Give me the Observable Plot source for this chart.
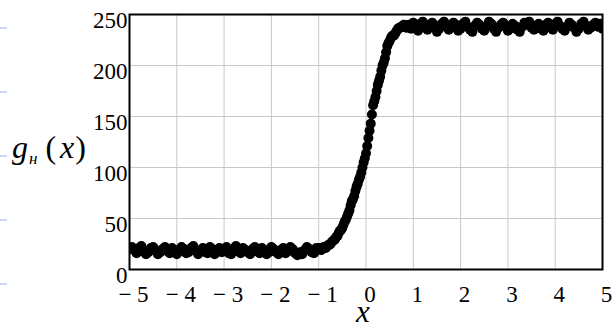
<!DOCTYPE html>
<html><head><meta charset="utf-8">
<script src="https://cdn.jsdelivr.net/npm/d3@7"></script>
<script src="https://cdn.jsdelivr.net/npm/@observablehq/plot@0.6"></script>
<style>
body{margin:0;background:#fff;}
#wrap{position:relative;width:612px;height:325px;overflow:hidden;}
.dash{position:absolute;left:0;width:7px;height:2px;background:#c9d5f3;}
#ylab{position:absolute;left:12px;top:131px;font-family:"Liberation Serif",serif;font-size:32px;line-height:32px;white-space:nowrap;color:#000;}
#ylab i{font-style:italic;}
#ylab .sub{font-size:17px;font-style:italic;position:relative;top:6px;margin-left:1px;margin-right:8px;}
#ylab .p1{margin-right:4px;}
#ylab .p2{margin-left:1px;}
#xlab{position:absolute;left:356px;top:307px;font-family:"Liberation Serif",serif;font-size:31px;font-style:italic;line-height:10px;height:14px;color:#000;}
</style></head>
<body><div id="wrap"></div>
<script>
const xTicks = [-5,-4,-3,-2,-1,0,1,2,3,4,5];
const yTicks = [0,50,100,150,200,250];

const lowX = [-5,-4.95,-4.9,-4.85,-4.8,-4.75,-4.7,-4.65,-4.6,-4.55,
-4.5,-4.45,-4.4,-4.35,-4.3,-4.25,-4.2,-4.15,-4.1,-4.05,
-4,-3.95,-3.9,-3.85,-3.8,-3.75,-3.7,-3.65,-3.6,-3.55,
-3.5,-3.45,-3.4,-3.35,-3.3,-3.25,-3.2,-3.15,-3.1,-3.05,
-3,-2.95,-2.9,-2.85,-2.8,-2.75,-2.7,-2.65,-2.6,-2.55,
-2.5,-2.45,-2.4,-2.35,-2.3,-2.25,-2.2,-2.15,-2.1,-2.05,
-2,-1.95,-1.9,-1.85,-1.8,-1.75,-1.7,-1.65,-1.6,-1.55,
-1.5,-1.45,-1.4,-1.35,-1.3,-1.25,-1.2,-1.15,-1.1,-1.05];
const lowY = [20,22,19,16,21,23,18,15,17,21, 22,19,15,17,20,22,18,16,21,19,
15,18,22,20,16,17,21,23,19,15, 18,21,17,16,22,20,15,18,21,17,
19,22,16,15,20,23,18,16,21,19, 17,15,20,22,18,16,21,19,15,17,
22,20,17,15,19,21,16,18,22,20, 16,14,17,15,19,22,20,17,16,21];

const riseX = [-1,-0.975,-0.95,-0.925,-0.9,-0.875,-0.85,-0.825,-0.8,-0.775,
-0.75,-0.725,-0.7,-0.675,-0.65,-0.625,-0.6,-0.575,-0.55,-0.525,
-0.5,-0.475,-0.45,-0.425,-0.4,-0.375,-0.35,-0.325,-0.3,-0.275,
-0.25,-0.225,-0.2,-0.175,-0.15,-0.125,-0.1,-0.075,-0.05,-0.025,
0,0.025,0.05,0.075,0.1,0.125,0.15,0.175,0.2,0.225,
0.25,0.275,0.3,0.325,0.35,0.375,0.4,0.425,0.45,0.475,
0.5,0.525,0.55,0.575,0.6,0.625,0.65,0.675,0.7,0.725,
0.75,0.775,0.8,0.825,0.85,0.875];
const riseY = [21,20,19,21,22,21,21,23,24,24,
25,27,28,29,30,32,33,36,38,39,
41,44,47,49,52,55,58,63,67,69,
72,77,81,84,88,91,95,100,105,109,
114,121,129,136,143,152,161,165,169,175,
181,185,189,195,200,203,207,213,219,222,
224,227,229,229,230,232,234,236,237,237,
238,239,240,238,237,239];

const highX = [0.9,0.95,1,1.05,1.1,1.15,1.2,1.25,1.3,1.35,
1.4,1.45,1.5,1.55,1.6,1.65,1.7,1.75,1.8,1.85,
1.9,1.95,2,2.05,2.1,2.15,2.2,2.25,2.3,2.35,
2.4,2.45,2.5,2.55,2.6,2.65,2.7,2.75,2.8,2.85,
2.9,2.95,3,3.05,3.1,3.15,3.2,3.25,3.3,3.35,
3.4,3.45,3.5,3.55,3.6,3.65,3.7,3.75,3.8,3.85,
3.9,3.95,4,4.05,4.1,4.15,4.2,4.25,4.3,4.35,
4.4,4.45,4.5,4.55,4.6,4.65,4.7,4.75,4.8,4.85,
4.9,4.95,5];
const highY = [240,236,242,238,234,241,243,237,235,240, 242,238,233,236,241,243,239,235,237,242,
240,234,236,241,243,238,235,233,239,242, 240,236,234,238,243,241,236,233,237,240,
242,238,234,236,241,239,235,233,238,242, 240,243,237,235,239,241,236,234,240,242,
238,235,241,243,239,236,234,238,242,240, 237,233,236,241,243,239,235,237,240,242,
238,241,236];

const points = [
  ...lowX.map((x,i)=>({x, y: lowY[i]})),
  ...riseX.map((x,i)=>({x, y: riseY[i]})),
  ...highX.map((x,i)=>({x, y: highY[i]}))
];

const chart = Plot.plot({
  width: 612, height: 325,
  marginLeft: 129, marginRight: 10, marginTop: 14, marginBottom: 56,
  style: {fontFamily: "Liberation Serif, serif", fontSize: "23px", color: "black", background: "white", overflow: "visible"},
  x: {domain: [-5, 5]},
  y: {domain: [0, 250]},
  marks: [
    Plot.gridX(xTicks, {stroke: "#c8c8c8", strokeOpacity: 1, strokeWidth: 1}),
    Plot.gridY(yTicks, {stroke: "#c8c8c8", strokeOpacity: 1, strokeWidth: 1}),
    Plot.dot(points, {x: "x", y: "y", r: 5, fill: "black", stroke: null, clip: true}),
    Plot.axisX(xTicks, {tickSize: 0, tickPadding: 16, dx: 4, label: null,
      tickFormat: d => d < 0 ? `\u2212 ${-d}` : `${d}`}),
    Plot.axisY(yTicks, {tickSize: 0, tickPadding: 2, dy: 6, label: null}),
    Plot.frame({stroke: "black", strokeWidth: 2})
  ]
});

const wrap = document.getElementById("wrap");
wrap.appendChild(chart);
[28, 92, 156, 220, 284].forEach(t => {
  const d = document.createElement("div");
  d.className = "dash"; d.style.top = (t - 1) + "px";
  wrap.appendChild(d);
});
const yl = document.createElement("div");
yl.id = "ylab";
yl.innerHTML = '<i>g</i><span class="sub">н</span><span class="p1">(</span><i>x</i><span class="p2">)</span>';
wrap.appendChild(yl);
const xl = document.createElement("div");
xl.id = "xlab"; xl.textContent = "x";
wrap.appendChild(xl);
</script>
</body></html>
